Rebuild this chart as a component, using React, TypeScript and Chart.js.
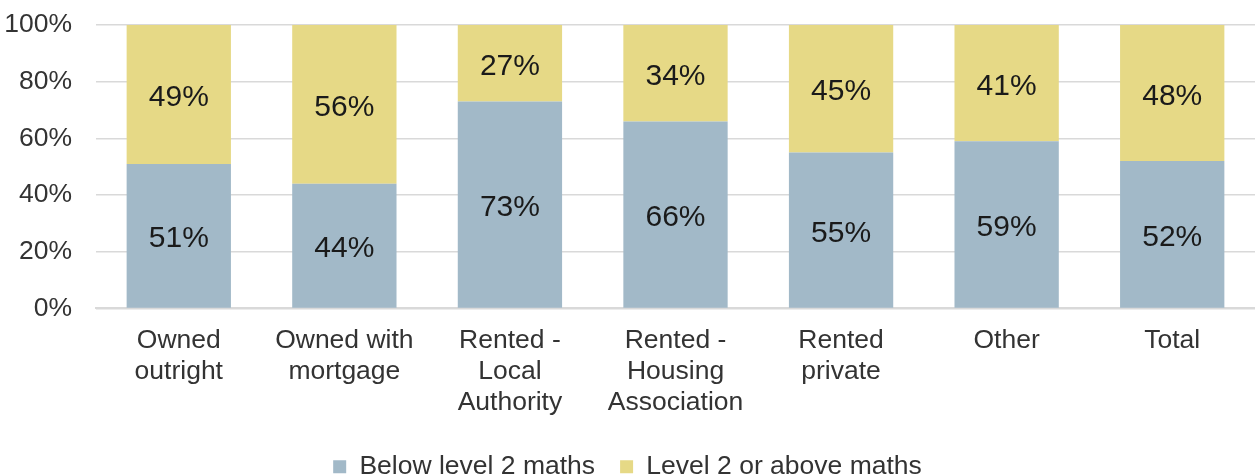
import React, { useEffect, useRef } from "react";
import { Chart, registerables } from "chart.js";

Chart.register(...registerables);

const categories: string[][] = [
  ["Owned", "outright"],
  ["Owned with", "mortgage"],
  ["Rented -", "Local", "Authority"],
  ["Rented -", "Housing", "Association"],
  ["Rented", "private"],
  ["Other"],
  ["Total"],
];
const belowLevel2 = [51, 44, 73, 66, 55, 59, 52];
const level2Above = [49, 56, 27, 34, 45, 41, 48];
const yTicks = [0, 20, 40, 60, 80, 100];

const FONT = "'Liberation Sans', Arial, sans-serif";

const labelPlugin = {
  id: "barLabels",
  afterDatasetsDraw(chart: any) {
    const ctx = chart.ctx;
    ctx.save();
    ctx.font = `30px ${FONT}`;
    ctx.fillStyle = "#1a1a1a";
    ctx.textAlign = "center";
    ctx.textBaseline = "alphabetic";
    chart.data.datasets.forEach((ds: any, i: number) => {
      const meta = chart.getDatasetMeta(i);
      meta.data.forEach((bar: any, j: number) => {
        const v = ds.data[j];
        const y = (bar.y + bar.base) / 2;
        ctx.fillText(`${v}%`, bar.x, y + 11.5);
      });
    });
    ctx.restore();
  },
};

export default function App() {
  const ref = useRef<HTMLCanvasElement>(null);
  useEffect(() => {
    const chart = new Chart(ref.current!, {
      type: "bar",
      data: {
        labels: categories,
        datasets: [
          {
            label: "Below level 2 maths",
            data: belowLevel2,
            backgroundColor: "#A2B9C8",
            categoryPercentage: 1,
            barPercentage: 0.63,
          },
          {
            label: "Level 2 or above maths",
            data: level2Above,
            backgroundColor: "#E6D986",
            categoryPercentage: 1,
            barPercentage: 0.63,
          },
        ],
      },
      options: {
        animation: false,
        responsive: true,
        maintainAspectRatio: false,
        layout: { padding: { left: 0, top: 1, right: 0, bottom: -14 } },
        plugins: {
          legend: {
            position: "bottom",
            labels: {
              font: { family: FONT, size: 26.5 },
              color: "#333333",
              boxWidth: 13,
              boxHeight: 13,
              padding: 25,
            },
          },
          tooltip: { enabled: false },
        },
        scales: {
          x: {
            stacked: true,
            grid: { display: false, drawTicks: false },
            border: { display: true, color: "#d9d9d9", width: 2 },
            afterFit: (axis: any) => {
              axis.height -= 7;
            },
            ticks: {
              font: { family: FONT, size: 26.5, lineHeight: 1.17 },
              color: "#333333",
              padding: 17,
              maxRotation: 0,
              autoSkip: false,
            },
          },
          y: {
            stacked: true,
            min: 0,
            max: 100,
            afterBuildTicks: (axis: any) => {
              axis.ticks = yTicks.map((v) => ({ value: v }));
            },
            afterFit: (axis: any) => {
              axis.width = 96;
            },
            grid: { color: "#d9d9d9", lineWidth: 1.5, drawTicks: false },
            border: { display: false },
            ticks: {
              font: { family: FONT, size: 26.5, lineHeight: 0.075 },
              color: "#333333",
              padding: 24,
              callback: (v: any) => `${v}%`,
            },
          },
        },
      },
      plugins: [labelPlugin],
    });
    return () => chart.destroy();
  }, []);
  return (
    <div style={{ position: "fixed", left: 0, top: 0, width: 1255, height: 476, background: "#fff" }}>
      <canvas ref={ref} />
    </div>
  );
}
